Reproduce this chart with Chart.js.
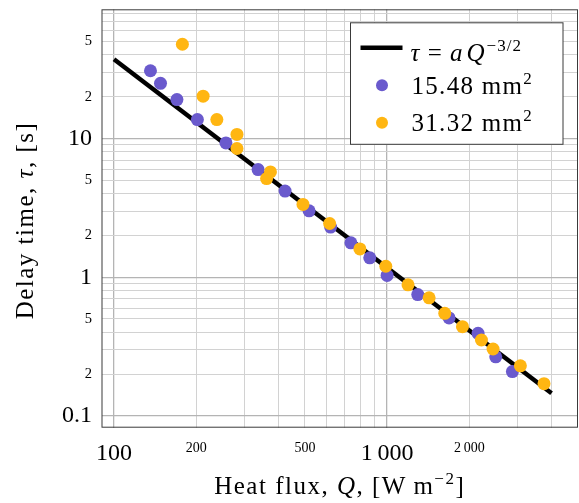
<!DOCTYPE html>
<html>
<head>
<meta charset="utf-8">
<script src="https://cdn.jsdelivr.net/npm/chart.js@4/dist/chart.umd.min.js"></script>
<style>
  html, body { margin: 0; padding: 0; background: #fff; }
  canvas { display: block; }
</style>
</head>
<body>
<canvas id="chart" width="579" height="503"></canvas>
<script>
// ---------------- DATA ----------------

// fit line, tau = a Q^(-3/2), end points
const fitFlux = [100, 4000];
const fitTau = [37.3, 0.146];

// 15.48 mm^2
const fluxSmall = [136, 148, 170, 202, 257, 337, 423, 518, 621, 737, 864, 1000, 1295, 1686, 2153, 2499, 2876];
const tauSmall = [30.8, 25.0, 19.1, 13.7, 9.29, 5.97, 4.18, 3.01, 2.30, 1.77, 1.38, 1.03, 0.75, 0.509, 0.394, 0.267, 0.209];

// 31.32 mm^2
const fluxLarge = [178, 212, 238, 282, 282, 374, 362, 492, 616, 795, 989, 1193, 1425, 1626, 1888, 2215, 2443, 3076, 3754];
const tauLarge = [47.8, 20.2, 13.7, 10.7, 8.47, 5.74, 5.14, 3.35, 2.44, 1.60, 1.20, 0.881, 0.710, 0.549, 0.440, 0.353, 0.304, 0.230, 0.171];

// ticks
const xTickValues = [100, 200, 300, 400, 500, 600, 700, 800, 900, 1000, 2000, 3000, 4000];
const xTickLabels = ["100", "200", "", "", "500", "", "", "", "", "1\u2009000", "2\u2009000", "", ""];
const yTickValues = [0.1, 0.2, 0.3, 0.4, 0.5, 0.6, 0.7, 0.8, 0.9, 1, 2, 3, 4, 5, 6, 7, 8, 9, 10, 20, 30, 40, 50, 60, 70, 80];
const yTickLabels = ["0.1", "2", "", "", "5", "", "", "", "", "1", "2", "", "", "5", "", "", "", "", "10", "2", "", "", "5", "", "", ""];

// ---------------- STYLE ----------------

const SERIF = "'Liberation Serif', 'DejaVu Serif', serif";
const PURPLE = "#6A5ACD";
const ORANGE = "#FFB612";

function isDecade(v) {
    const l = Math.log10(v);
    return Math.abs(l - Math.round(l)) < 1e-6;
}

function toPoints(xs, ys) {
    return xs.map((x, i) => ({ x: x, y: ys[i] }));
}

// no extra room for the tick labels, the frame is fixed
function noPadding(s) {
    s.paddingTop = 0;
    s.paddingBottom = 0;
    s.paddingLeft = 0;
    s.paddingRight = 0;
}

// draw text made of parts (italic, superscript ...)
function drawRich(ctx, parts, x, y, align, spacing) {
    ctx.letterSpacing = (spacing || 0) + "px";
    let total = 0;
    parts.forEach(p => {
        ctx.font = (p.italic ? "italic " : "") + p.size + "px " + SERIF;
        p.w = ctx.measureText(p.t).width;
        total += p.w + (p.gap || 0);
    });
    let cx = align === "center" ? x - total / 2 : x;
    ctx.textBaseline = "alphabetic";
    ctx.textAlign = "left";
    parts.forEach(p => {
        ctx.font = (p.italic ? "italic " : "") + p.size + "px " + SERIF;
        ctx.fillText(p.t, cx, y - (p.up || 0));
        cx += p.w + (p.gap || 0);
    });
    ctx.letterSpacing = "0px";
}

// ---------------- PLUGINS ----------------

const framePlugin = {
    id: "frame",
    afterDatasetsDraw(chart) {
        const a = chart.chartArea;
        const ctx = chart.ctx;
        ctx.save();
        ctx.strokeStyle = "#3a3a3a";
        ctx.lineWidth = 1;
        ctx.strokeRect(a.left + 0.5, a.top + 0.5, a.right - a.left - 1, a.bottom - a.top - 1);
        ctx.restore();
    }
};

const titlePlugin = {
    id: "titles",
    afterDraw(chart) {
        const a = chart.chartArea;
        const ctx = chart.ctx;
        ctx.save();
        ctx.fillStyle = "#000";
        drawRich(ctx, [
            { t: "Heat flux, ", size: 25 },
            { t: "Q", size: 25, italic: true },
            { t: ", [W\u2009m", size: 25 },
            { t: "\u22122", size: 17, up: 10 },
            { t: "]", size: 25 }
        ], (a.left + a.right) / 2, 494, "center", 1.5);

        ctx.translate(33, (a.top + a.bottom) / 2 + 2);
        ctx.rotate(-Math.PI / 2);
        drawRich(ctx, [
            { t: "Delay time, ", size: 25 },
            { t: "\u03C4", size: 25, italic: true },
            { t: ", [s]", size: 25 }
        ], 0, 0, "center", 1.5);
        ctx.restore();
    }
};

const legendPlugin = {
    id: "boxLegend",
    afterDraw(chart) {
        const a = chart.chartArea;
        const ctx = chart.ctx;
        const ds = chart.data.datasets;
        const left = a.right - 227.5, top = a.top + 13.5, w = 212.5, h = 121.5;
        ctx.save();
        ctx.fillStyle = "#fff";
        ctx.fillRect(left, top, w, h);
        ctx.strokeStyle = "#3a3a3a";
        ctx.lineWidth = 1;
        ctx.strokeRect(left, top, w, h);

        // fit line sample
        ctx.strokeStyle = ds[0].borderColor;
        ctx.lineWidth = ds[0].borderWidth;
        ctx.beginPath();
        ctx.moveTo(left + 10, top + 25);
        ctx.lineTo(left + 52, top + 25);
        ctx.stroke();

        // markers
        [[ds[1], 62.5], [ds[2], 100]].forEach(([d, dy]) => {
            ctx.fillStyle = d.backgroundColor;
            ctx.beginPath();
            ctx.arc(left + 31.5, top + dy, 6, 0, Math.PI * 2);
            ctx.fill();
        });

        ctx.fillStyle = "#000";
        drawRich(ctx, [
            { t: "\u03C4", size: 25, italic: true },
            { t: " = ", size: 25 },
            { t: "a", size: 25, italic: true, gap: 3 },
            { t: "Q", size: 25, italic: true, gap: 1 },
            { t: "\u22123/2", size: 17, up: 10 }
        ], left + 60, top + 38, "left", 1);
        drawRich(ctx, [
            { t: "15.48 mm", size: 25 },
            { t: "2", size: 17, up: 10 }
        ], left + 61, top + 71, "left", 1.3);
        drawRich(ctx, [
            { t: "31.32 mm", size: 25 },
            { t: "2", size: 17, up: 10 }
        ], left + 61, top + 108, "left", 1.3);
        ctx.restore();
    }
};

// ---------------- CHART ----------------

const ctx = document.getElementById("chart").getContext("2d");

const chart = new Chart(ctx, {
    type: "scatter",
    data: {
        datasets: [{
            type: "line",
            label: "fit",
            data: toPoints(fitFlux, fitTau),
            borderColor: "#000",
            borderWidth: 4.5,
            pointRadius: 0,
            fill: false,
            order: 3
        }, {
            label: "15.48 mm2",
            data: toPoints(fluxSmall, tauSmall),
            backgroundColor: PURPLE,
            borderWidth: 0,
            pointRadius: 6.5,
            order: 2
        }, {
            label: "31.32 mm2",
            data: toPoints(fluxLarge, tauLarge),
            backgroundColor: ORANGE,
            borderWidth: 0,
            pointRadius: 6.5,
            order: 1
        }]
    },
    options: {
        responsive: false,
        animation: false,
        layout: { autoPadding: false, padding: { top: 9.3, right: 1, left: 0, bottom: 0 } },
        plugins: {
            legend: { display: false },
            tooltip: { enabled: false }
        },
        scales: {
            x: {
                type: "logarithmic",
                bounds: "data",
                min: 90,
                max: 5000,
                afterBuildTicks: s => { s.ticks = xTickValues.map(v => ({ value: v })); },
                afterFit: s => { s.height = 75.3; noPadding(s); },
                ticks: {
                    autoSkip: false,
                    maxRotation: 0,
                    padding: 12,
                    color: "#000",
                    callback: (v, i) => xTickLabels[i],
                    font: c => ({ family: SERIF, size: c.tick && isDecade(c.tick.value) ? 24 : 14 })
                },
                grid: {
                    drawTicks: false,
                    color: c => c.tick && isDecade(c.tick.value) ? "#b4b4b4" : "#d2d2d2",
                    lineWidth: c => c.tick && isDecade(c.tick.value) ? 1.3 : 1
                },
                border: { display: false }
            },
            y: {
                type: "logarithmic",
                bounds: "data",
                min: 0.0823,
                max: 85.4,
                afterBuildTicks: s => { s.ticks = yTickValues.map(v => ({ value: v })); },
                afterFit: s => { s.width = 101.5; noPadding(s); },
                ticks: {
                    autoSkip: false,
                    padding: 9.5,
                    color: "#000",
                    callback: (v, i) => yTickLabels[i],
                    font: c => ({ family: SERIF, size: c.tick && isDecade(c.tick.value) ? 24 : 14.5 })
                },
                grid: {
                    drawTicks: false,
                    color: c => c.tick && isDecade(c.tick.value) ? "#b4b4b4" : "#d2d2d2",
                    lineWidth: c => c.tick && isDecade(c.tick.value) ? 1.3 : 1
                },
                border: { display: false }
            }
        }
    },
    plugins: [framePlugin, titlePlugin, legendPlugin]
});
</script>
</body>
</html>
